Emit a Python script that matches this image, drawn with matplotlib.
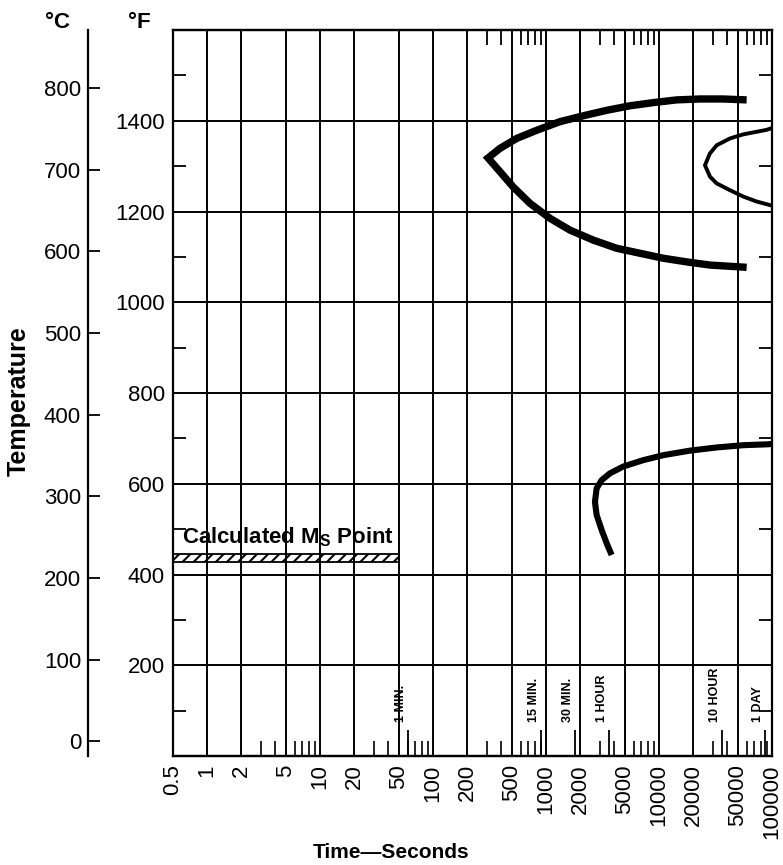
import matplotlib
matplotlib.use('Agg')
import matplotlib.pyplot as plt
from matplotlib.ticker import FixedLocator, NullLocator, NullFormatter

plt.rcParams['font.family'] = ['Liberation Sans', 'DejaVu Sans']
plt.rcParams['mathtext.fontset'] = 'custom'
plt.rcParams['mathtext.rm'] = 'Liberation Sans'
plt.rcParams['mathtext.bf'] = 'Liberation Sans:bold'
plt.rcParams['hatch.linewidth'] = 1.5

# ---------------- data ----------------
time_ticks = [0.5, 1, 2, 5, 10, 20, 50, 100, 200, 500, 1000, 2000, 5000,
              10000, 20000, 50000, 100000]
time_tick_labels = ['0.5', '1', '2', '5', '10', '20', '50', '100', '200', '500',
                    '1000', '2000', '5000', '10000', '20000', '50000', '100000']
bottom_minor_ticks = [3, 4, 6, 7, 8, 9, 30, 40, 60, 70, 80, 90,
                      300, 400, 600, 700, 800, 900,
                      3000, 4000, 6000, 7000, 8000, 9000,
                      30000, 40000, 60000, 70000, 80000, 90000]
top_minor_ticks = [300, 400, 600, 700, 800, 900,
                   3000, 4000, 6000, 7000, 8000, 9000,
                   30000, 40000, 60000, 70000, 80000, 90000]
special_times = [60, 900, 1800, 3600, 36000, 86400]
special_labels = ['1 MIN.', '15 MIN.', '30 MIN.', '1 HOUR', '10 HOUR', '1 DAY']

temp_F_major = [200, 400, 600, 800, 1000, 1200, 1400]
temp_F_minor = [100, 300, 500, 700, 900, 1100, 1300, 1500]
temp_C_ticks = [0, 100, 200, 300, 400, 500, 600, 700, 800]

ms_time = [0.5, 50]
ms_low_F = 428
ms_high_F = 446

# pearlite start C-curve (thick)
start_time = [59700, 37070, 23050, 14340, 8900, 5535, 3444, 2138, 1330, 827, 550,
              391, 307, 391, 513, 722, 1085, 1631, 2621, 4222, 6786, 10915,
              17580, 28250, 59700]
start_F = [1446, 1448, 1448, 1446, 1440, 1433, 1423, 1411, 1398, 1379, 1361,
           1339, 1318, 1288, 1254, 1218, 1185, 1159, 1137, 1119, 1108, 1097,
           1089, 1082, 1077]

# second C-curve (thin)
finish_time = [100000, 89750, 55700, 42480, 32400, 28250, 25530, 28250, 32400,
               42480, 55700, 73200, 100000]
finish_F = [1384, 1380, 1370, 1361, 1346, 1328, 1302, 1277, 1262, 1247, 1233,
            1222, 1213]

# lower (bainite) curve
bainite_time = [3811, 3444, 3111, 2809, 2713, 2809, 3111, 3683, 4830, 7260,
                10915, 18800, 32400, 55700, 92700, 100000]
bainite_F = [443, 469, 498, 531, 560, 590, 608, 623, 638, 652, 663, 673, 680,
             685, 687, 688]


def f2c(f):
    return (f - 32.0) * 5.0 / 9.0


def c2f(c):
    return c * 9.0 / 5.0 + 32.0


# ---------------- figure ----------------
fig = plt.figure(figsize=(7.83, 8.65), dpi=100)
ax = fig.add_axes([0.2209, 0.1260, 0.7650, 0.8393])
ax.set_xscale('log')
ax.set_xlim(0.5, 100000)
ax.set_ylim(0, 1600)

for s in ax.spines.values():
    s.set_linewidth(1.6)

ax.set_xticks(time_ticks, labels=time_tick_labels, rotation=90, fontsize=16)
ax.xaxis.set_minor_locator(FixedLocator(bottom_minor_ticks))
ax.xaxis.set_minor_formatter(NullFormatter())
ax.tick_params(axis='x', which='major', length=0, pad=6)
ax.tick_params(axis='x', which='minor', direction='in', length=10.8, width=1.2,
               bottom=True, top=False)

ax.set_yticks(temp_F_major, labels=[str(v) for v in temp_F_major], fontsize=16)
ax.yaxis.set_minor_locator(FixedLocator(temp_F_minor))
ax.tick_params(axis='y', which='major', length=0, pad=6)
ax.tick_params(axis='y', which='minor', direction='in', length=9.4, width=1.3,
               left=True, right=True)

ax.grid(True, which='major', color='black', linewidth=1.4)
ax.set_axisbelow(True)

# top ticks
sec_top = ax.secondary_xaxis('top')
sec_top.set_xticks(top_minor_ticks, labels=[])
sec_top.xaxis.set_minor_locator(NullLocator())
sec_top.tick_params(direction='in', length=10.5, width=1.3)
sec_top.spines['top'].set_linewidth(1.6)

# special time marks
sec_bot = ax.secondary_xaxis('bottom')
sec_bot.set_xticks(special_times, labels=[])
sec_bot.xaxis.set_minor_locator(NullLocator())
sec_bot.tick_params(direction='in', length=19, width=1.3)
sec_bot.spines['bottom'].set_linewidth(1.6)
for t, lab in zip(special_times, special_labels):
    ax.annotate(lab, xy=(t, 0), xycoords=('data', 'axes fraction'),
                xytext=(-5, 24.5), textcoords='offset points', rotation=90,
                ha='center', va='bottom', fontsize=9, fontweight='bold',
                family=['Liberation Sans Narrow', 'Liberation Sans'])

# Celsius axis
secC = ax.secondary_yaxis(-0.1419, functions=(f2c, c2f))
secC.set_yticks(temp_C_ticks, labels=[str(v) for v in temp_C_ticks])
secC.yaxis.set_minor_locator(NullLocator())
secC.tick_params(direction='in', length=8.6, width=1.3, pad=5, labelsize=16)
for s in secC.spines.values():
    s.set_linewidth(1.6)

# Ms band
ax.fill_between(ms_time, ms_low_F, ms_high_F, facecolor='none', edgecolor='black',
                hatch='///', linewidth=1.3, zorder=3)
ax.text(0.6, 483, r'Calculated M$_\mathbf{S}$ Point', fontsize=16,
        fontweight='bold', va='center', ha='left', zorder=4)

# curves
ax.plot(start_time, start_F, color='black', lw=5.3, solid_joinstyle='miter',
        solid_capstyle='butt', zorder=5)
ax.plot(finish_time, finish_F, color='black', lw=2.8, solid_joinstyle='round',
        solid_capstyle='butt', zorder=5)
ax.plot(bainite_time, bainite_F, color='black', lw=4.4, solid_joinstyle='round',
        solid_capstyle='butt', zorder=5)

# labels
fig.text(57 / 783, 1 - 23 / 865, '°C', ha='center', va='center', fontsize=16,
         fontweight='bold')
fig.text(139 / 783, 1 - 23 / 865, '°F', ha='center', va='center', fontsize=16,
         fontweight='bold')
fig.text(19 / 783, 1 - 401 / 865, 'Temperature', ha='center', va='center',
         rotation=90, fontsize=18, fontweight='bold')
fig.text(0.5, 1 - 853 / 865, 'Time—Seconds', ha='center', va='center',
         fontsize=15, fontweight='bold')

fig.savefig('out.png', dpi=100)
